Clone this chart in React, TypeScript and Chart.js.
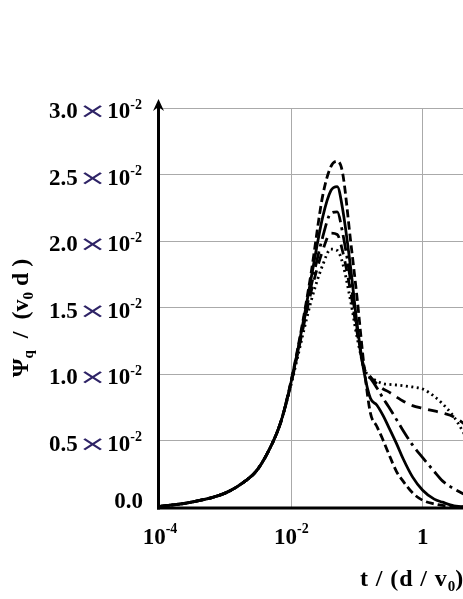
import React, { useEffect, useRef } from 'react';
import { Chart, registerables } from 'chart.js';

Chart.register(...registerables);

// t / (d / v0)
const tValues = [1e-4, 3e-4, 1e-3, 2e-3, 3e-3, 5e-3, 7e-3, 1e-2, 1.5e-2, 2e-2, 3e-2, 4e-2, 5e-2, 6e-2, 8e-2, 0.1, 0.13, 0.16, 0.2, 0.25, 0.3, 0.4, 0.5, 0.7, 1, 1.5, 2, 3, 5, 10, 20, 50, 100];

// Psi_q / (v0 d), in units of 10^-2
const dashedValues = [0.008, 0.04, 0.11, 0.2, 0.28, 0.47, 0.65, 0.96, 1.4, 1.76, 2.34, 2.56, 2.6, 2.52, 2.0, 1.58, 1.03, 0.71, 0.61, 0.505, 0.41, 0.27, 0.2, 0.11, 0.054, 0.027, 0.016, 0.007, 0.004, 0.002, 0.001, 0, 0];
const solidValues = [0.008, 0.04, 0.11, 0.2, 0.28, 0.47, 0.65, 0.95, 1.38, 1.72, 2.18, 2.38, 2.41, 2.25, 1.8, 1.38, 1.0, 0.82, 0.77, 0.69, 0.61, 0.48, 0.37, 0.23, 0.13, 0.063, 0.04, 0.013, 0.006, 0.002, 0.001, 0, 0];
const dashDotValues = [0.008, 0.04, 0.11, 0.2, 0.28, 0.47, 0.65, 0.95, 1.36, 1.66, 2.03, 2.21, 2.22, 2.07, 1.7, 1.35, 1.02, 0.97, 0.9, 0.82, 0.76, 0.66, 0.58, 0.47, 0.375, 0.27, 0.2, 0.14, 0.085, 0.04, 0.02, 0.008, 0.004];
const longDashValues = [0.008, 0.04, 0.11, 0.2, 0.28, 0.47, 0.65, 0.94, 1.34, 1.62, 1.93, 2.06, 2.05, 1.93, 1.62, 1.32, 1.04, 0.98, 0.93, 0.89, 0.87, 0.83, 0.8, 0.765, 0.745, 0.725, 0.71, 0.68, 0.6, 0.45, 0.3, 0.15, 0.08];
const dottedValues = [0.008, 0.04, 0.11, 0.2, 0.28, 0.47, 0.65, 0.93, 1.3, 1.55, 1.82, 1.94, 1.93, 1.84, 1.55, 1.28, 1.04, 0.98, 0.95, 0.93, 0.925, 0.92, 0.915, 0.905, 0.89, 0.835, 0.78, 0.68, 0.5, 0.3, 0.15, 0.06, 0.02];

const xTicks = [1e-4, 1e-2, 1, 100];
const xTickLabels = [['10', '-4'], ['10', '-2'], ['1', ''], ['10', '2']];
const yTicks = [0, 0.5, 1.0, 1.5, 2.0, 2.5, 3.0];
const yTickLabels = ['0.0', '0.5', '1.0', '1.5', '2.0', '2.5', '3.0'];
const yMultiplier = ['10', '-2'];

const MAIN = 'bold 23px "Liberation Serif"';
const SUP = 'bold 14px "Liberation Serif"';
const TITLE = 'bold 24px "Liberation Serif"';
const TITLE_SUB = 'bold 15px "Liberation Serif"';
const TIMES_FONT = '22px "DejaVu Sans"';
const TIMES_COLOR = '#2e2366';
const GRID = '#aaaaaa';

type Part = { t: string; f: string; dy?: number; c?: string; gap?: number; sx?: number; ls?: number };

function drawRich(ctx: any, parts: Part[], x: number, y: number, align: 'left' | 'center' | 'right') {
  let total = 0;
  const ws = parts.map((p) => {
    ctx.font = p.f;
    ctx.letterSpacing = (p.ls || 0) + 'px';
    const w = ctx.measureText(p.t).width * (p.sx || 1);
    ctx.letterSpacing = '0px';
    total += w + (p.gap || 0);
    return w;
  });
  let cx = align === 'left' ? x : align === 'center' ? x - total / 2 : x - total;
  ctx.textAlign = 'left';
  ctx.textBaseline = 'alphabetic';
  parts.forEach((p, i) => {
    cx += p.gap || 0;
    ctx.font = p.f;
    ctx.letterSpacing = (p.ls || 0) + 'px';
    ctx.fillStyle = p.c || '#000';
    if (p.sx && p.sx !== 1) {
      ctx.save();
      ctx.translate(cx, y + (p.dy || 0));
      ctx.scale(p.sx, 1);
      ctx.fillText(p.t, 0, 0);
      ctx.restore();
    } else {
      ctx.fillText(p.t, cx, y + (p.dy || 0));
    }
    ctx.letterSpacing = '0px';
    cx += ws[i];
  });
}

const decor = {
  id: 'decor',
  afterDatasetsDraw(chart: any) {
    const { ctx, chartArea: ca, scales } = chart;
    const xs = scales.x;
    const ys = scales.y;
    ctx.save();
    const ax = ca.left - 1.5;
    const ay = ys.getPixelForValue(0) + 0.5;
    ctx.strokeStyle = '#000';
    ctx.lineWidth = 3;
    ctx.beginPath();
    ctx.moveTo(ax, ay + 1.5);
    ctx.lineTo(ax, ca.top - 4);
    ctx.stroke();
    ctx.beginPath();
    ctx.moveTo(ax - 1.5, ay);
    ctx.lineTo(ca.right + 20, ay);
    ctx.stroke();
    // arrow head
    ctx.fillStyle = '#000';
    ctx.beginPath();
    ctx.moveTo(ax, ca.top - 9);
    ctx.lineTo(ax - 5.5, ca.top + 3);
    ctx.lineTo(ax, ca.top - 1);
    ctx.lineTo(ax + 5.5, ca.top + 3);
    ctx.closePath();
    ctx.fill();

    // y tick labels
    yTicks.forEach((v, i) => {
      const py = ys.getPixelForValue(v);
      if (v === 0) {
        drawRich(ctx, [{ t: yTickLabels[i], f: MAIN }], 143, py + 0.5, 'right');
      } else {
        drawRich(
          ctx,
          [
            { t: yTickLabels[i], f: MAIN },
            { t: '\u00d7', f: TIMES_FONT, c: TIMES_COLOR, gap: 1, sx: 1.5 },
            { t: yMultiplier[0], f: MAIN, gap: 1 },
            { t: yMultiplier[1], f: SUP, dy: -9.5 },
          ],
          142,
          py + 10,
          'right'
        );
      }
    });

    // x tick labels
    xTicks.forEach((v, i) => {
      const px = xs.getPixelForValue(v);
      const [base, exp] = xTickLabels[i];
      const parts: Part[] = [{ t: base, f: MAIN }];
      if (exp) parts.push({ t: exp, f: SUP, dy: -11 });
      drawRich(ctx, parts, px, 543.5, 'center');
    });

    // x title
    drawRich(
      ctx,
      [
        { t: 't / (d / v', f: TITLE, ls: 0.9 },
        { t: '0', f: TITLE_SUB, dy: 5 },
        { t: ')', f: TITLE },
      ],
      360,
      586,
      'left'
    );

    // y title
    ctx.translate(28, 318);
    ctx.rotate(-Math.PI / 2);
    drawRich(
      ctx,
      [
        { t: '\u03a8', f: TITLE },
        { t: 'q', f: TITLE_SUB, dy: 5 },
        { t: '  /  (v', f: TITLE },
        { t: '0', f: TITLE_SUB, dy: 5 },
        { t: ' d )', f: TITLE },
      ],
      0,
      0,
      'center'
    );
    ctx.restore();
  },
};

const seriesList = [
  { values: dottedValues, dash: [2, 3.5], width: 2.8 },
  { values: longDashValues, dash: [10, 7], width: 2.8 },
  { values: dashDotValues, dash: [16, 5, 3, 5], width: 2.8 },
  { values: solidValues, dash: [], width: 2.8 },
  { values: dashedValues, dash: [8, 4], width: 2.8 },
];

export default function App() {
  const ref = useRef<HTMLCanvasElement | null>(null);
  useEffect(() => {
    document.body.style.margin = '0';
    if (!ref.current) return;
    const chart = new Chart(ref.current, {
      type: 'line',
      data: {
        datasets: seriesList.map((s) => ({
          data: tValues.map((t, i) => ({ x: t, y: s.values[i] })),
          borderColor: '#000',
          borderWidth: s.width,
          borderDash: s.dash,
          pointRadius: 0,
          fill: false,
          cubicInterpolationMode: 'monotone' as const,
        })),
      },
      options: {
        animation: false,
        responsive: false,
        maintainAspectRatio: false,
        events: [],
        layout: { padding: { left: 160, top: 108, right: 46, bottom: 91.5 } },
        plugins: { legend: { display: false }, tooltip: { enabled: false } },
        scales: {
          x: {
            type: 'logarithmic',
            min: 1e-4,
            max: 100,
            afterBuildTicks: (s: any) => {
              s.ticks = xTicks.map((v) => ({ value: v }));
            },
            afterFit: (s: any) => {
              s.height = 0;
            },
            ticks: { display: false },
            grid: {
              drawTicks: false,
              lineWidth: 1,
              color: (c: any) => (c.tick && c.tick.value === 1e-4 ? 'rgba(0,0,0,0)' : GRID),
            },
            border: { display: false },
          },
          y: {
            type: 'linear',
            min: 0,
            max: 3,
            afterBuildTicks: (s: any) => {
              s.ticks = yTicks.map((v) => ({ value: v }));
            },
            afterFit: (s: any) => {
              s.width = 0;
            },
            ticks: { display: false },
            grid: {
              drawTicks: false,
              lineWidth: 1,
              color: (c: any) => (c.tick && c.tick.value === 0 ? 'rgba(0,0,0,0)' : GRID),
            },
            border: { display: false },
          },
        },
      },
      plugins: [decor],
    } as any);
    return () => chart.destroy();
  }, []);
  return (
    <div style={{ position: 'fixed', left: 0, top: 0, width: 463, height: 599, overflow: 'hidden', background: '#fff' }}>
      <canvas ref={ref} width={600} height={599} style={{ display: 'block' }} />
    </div>
  );
}
